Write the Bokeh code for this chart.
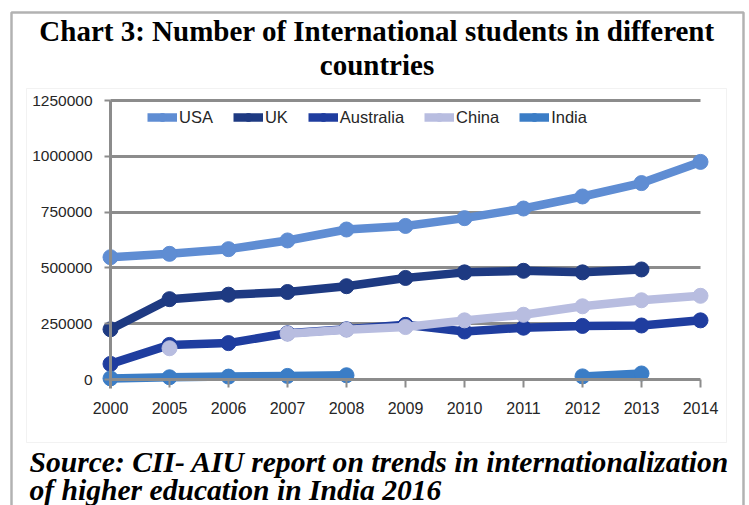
from bokeh.plotting import figure
from bokeh.models import Range1d, FixedTicker, Label, BoxAnnotation, Legend, LegendItem
from bokeh.embed import file_html
from bokeh.resources import INLINE

NA = float("nan")
years = ["2000", "2005", "2006", "2007", "2008", "2009", "2010", "2011", "2012", "2013", "2014"]
usa = [548000, 563000, 584000, 623000, 672000, 688000, 723000, 766000, 820000, 880000, 975000]
uk = [225000, 360000, 380000, 392000, 418000, 455000, 480000, 487000, 480000, 493000, NA]
australia = [70000, 155000, 163000, 207000, 225000, 245000, 215000, 232000, 240000, 242000, 265000]
china = [NA, 140000, NA, 205000, 223000, 235000, 265000, 290000, 328000, 355000, 375000]
india = [5000, 10000, 13000, 16000, 19000, NA, NA, NA, 14000, 27000, NA]
y_ticks = [0, 250000, 500000, 750000, 1000000, 1250000]

series = [
    ("USA", usa, "#5F8DD3"),
    ("UK", uk, "#1E3A82"),
    ("Australia", australia, "#1F3D9F"),
    ("China", china, "#B8BDE0"),
    ("India", india, "#3B7DC6"),
]

W, H = 749, 505
# plot-area geometry in page pixels
X0, X1 = 110.0, 700.0      # first / last category
Y0, YT = 379.0, 100.0      # value 0 / top value
n = len(years)
XS = (X1 - X0) / (n - 1)
YS = (Y0 - YT) / y_ticks[-1]

p = figure(width=W, height=H, output_backend="svg", toolbar_location=None,
           x_range=Range1d(-X0 / XS, (n - 1) + (W - X1) / XS),
           y_range=Range1d(-(H - Y0) / YS, y_ticks[-1] + YT / YS),
           min_border_left=0, min_border_right=0, min_border_top=0, min_border_bottom=0)
p.title.visible = False
p.outline_line_color = None
p.background_fill_color = "white"
p.border_fill_color = "white"
p.xgrid.visible = False

sans = "Liberation Sans"
gray = "#8C8C8C"

idx = list(range(n))
p.xaxis.ticker = FixedTicker(ticks=idx)
p.xaxis.major_label_overrides = {i: y for i, y in zip(idx, years)}
p.xaxis.fixed_location = 0
p.xaxis.bounds = (0, n - 1)
p.yaxis.ticker = FixedTicker(ticks=y_ticks)
p.yaxis.major_label_overrides = {v: str(v) for v in y_ticks}
p.yaxis.fixed_location = 0
p.yaxis.bounds = (-9 / YS, y_ticks[-1])
for ax in (p.xaxis, p.yaxis):
    ax.axis_line_color = gray
    ax.axis_line_width = 3
    ax.major_tick_line_color = gray
    ax.major_tick_line_width = 2
    ax.major_tick_in = 0
    ax.minor_tick_line_color = None
    ax.major_label_text_font = sans
    ax.major_label_text_color = "#262626"
p.xaxis.major_tick_out = 8
p.xaxis.major_label_standoff = 14
p.xaxis.major_label_text_font_size = "16px"
p.yaxis.major_tick_out = 6
p.yaxis.major_label_standoff = 12
p.yaxis.major_label_text_font_size = "15.5px"

grid = p.ygrid[0]
if "cross_bounds" in grid.properties():
    grid.ticker = FixedTicker(ticks=y_ticks[1:])
    grid.grid_line_color = gray
    grid.grid_line_width = 3
    grid.cross_bounds = (0, n - 1)
else:
    p.ygrid.visible = False
    gt = y_ticks[1:]
    p.segment(x0=[0] * len(gt), y0=gt, x1=[n - 1] * len(gt), y1=gt,
              line_color=gray, line_width=3, level="underlay")

# chart-image border and page box
p.add_layout(BoxAnnotation(left=26, right=726, top=H - 88, bottom=H - 442,
                           left_units="screen", right_units="screen", top_units="screen", bottom_units="screen",
                           fill_alpha=0, line_color="#D4D4D4", line_width=1, level="underlay"))
p.add_layout(BoxAnnotation(left=11, right=743, top=H - 12, bottom=-20,
                           left_units="screen", right_units="screen", top_units="screen", bottom_units="screen",
                           fill_alpha=0, line_color="black", line_width=2.5, level="underlay"))

items = []
for name, vals, col in series:
    ln = p.line(idx, vals, line_color=col, line_width=8.5, line_join="round")
    sc = p.scatter(idx, vals, marker="circle", size=15, fill_color=col, line_color=col)
    items.append(LegendItem(label=name, renderers=[ln, sc]))

legend = Legend(items=items, orientation="horizontal", location=(147, H - 127),
                background_fill_alpha=0, border_line_color=None,
                label_text_font=sans, label_text_font_size="16.5px", label_text_color="#262626",
                glyph_width=30, glyph_height=20, label_height=20, label_standoff=2,
                spacing=20, padding=0, margin=0)
p.add_layout(legend)

def lab(text, x, ypage, style, align, size):
    p.add_layout(Label(x=x, y=H - ypage + 11, x_units="screen", y_units="screen",
                       text=text, text_font="Liberation Serif", text_font_size=size,
                       text_font_style=style, text_align=align, text_baseline="alphabetic",
                       text_color="black"))

lab("Chart 3: Number of International students in different", 376.5, 41, "bold", "center", "29px")
lab("countries", 376.5, 75, "bold", "center", "29px")
lab("Source: CII- AIU report on trends in internationalization", 29, 472, "bold italic", "left", "29.6px")
lab("of higher education in India 2016", 29, 500, "bold italic", "left", "29.6px")

open("out.html", "w").write(file_html(p, INLINE))
